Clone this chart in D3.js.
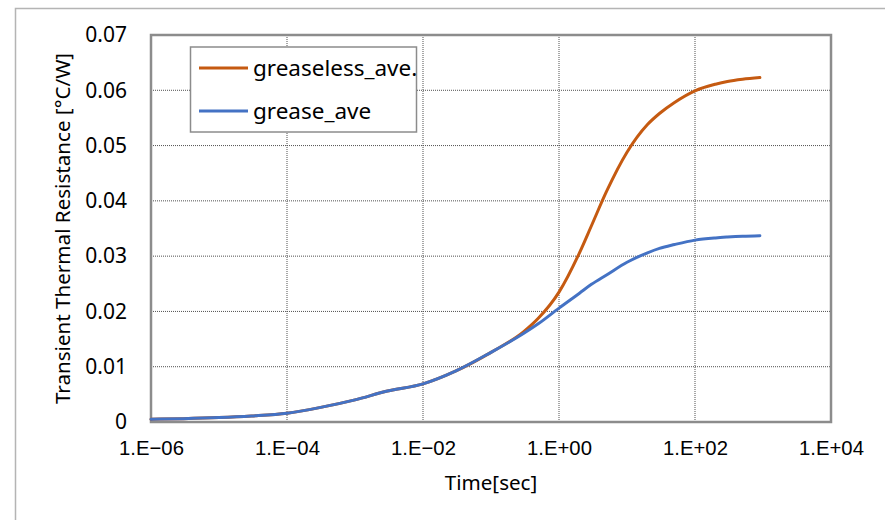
<!DOCTYPE html>
<html>
<head>
<meta charset="utf-8">
<script src="https://cdn.jsdelivr.net/npm/d3@7"></script>
<style>
  body { margin: 0; background: #fff; }
  .grid line { stroke: #505050; stroke-width: 1; stroke-dasharray: 1,1; }
  .axis path, .axis line { display: none; }
  .ylab text { font-family: "Noto Sans", sans-serif; font-size: 21px; fill: #000; }
  .xlab text { font-family: "Liberation Sans", Arial, sans-serif; font-size: 20.3px; fill: #000; }
  .title { font-family: "Noto Sans", sans-serif; font-size: 20.6px; fill: #000; }
  .legend text { font-family: "Noto Sans", sans-serif; font-size: 22.5px; fill: #000; }
</style>
</head>
<body>
<svg id="chart" width="885" height="520"></svg>
<script>
// time in seconds and transient thermal resistance (C/W)
var time       = [1e-6, 3e-6, 1e-5, 3e-5, 1e-4, 3e-4, 1e-3, 3e-3, 1e-2, 3e-2, 1e-1, 3e-1, 0.5, 1, 2, 3, 5, 10, 20, 30, 50, 100, 200, 300, 500, 900];
var greaseless = [0.0005, 0.0006, 0.0008, 0.0011, 0.0016, 0.0026, 0.0040, 0.0056, 0.0069, 0.0092, 0.0126, 0.0163, 0.0188, 0.0235, 0.0306, 0.0355, 0.0417, 0.0488, 0.0538, 0.0558, 0.0578, 0.0599, 0.0611, 0.0616, 0.0620, 0.0623];
var grease     = [0.0005, 0.0006, 0.0008, 0.0011, 0.0016, 0.0026, 0.0040, 0.0056, 0.0069, 0.0092, 0.0126, 0.0160, 0.0178, 0.0206, 0.0233, 0.0249, 0.0266, 0.0289, 0.0306, 0.0314, 0.0321, 0.0329, 0.0333, 0.03345, 0.0336, 0.0337];

var seriesNames  = ["greaseless_ave.", "grease_ave"];
var seriesColors = ["#C55A11", "#4472C4"];

var xTicks      = [1e-6, 1e-4, 1e-2, 1e0, 1e2, 1e4];
var xTickLabels = ["1.E\u221206", "1.E\u221204", "1.E\u221202", "1.E+00", "1.E+02", "1.E+04"];
var yTicks      = [0, 0.01, 0.02, 0.03, 0.04, 0.05, 0.06, 0.07];
var yTickLabels = ["0", "0.01", "0.02", "0.03", "0.04", "0.05", "0.06", "0.07"];

var margin = {top: 35, right: 54, bottom: 98, left: 151},
    width = 885 - margin.left - margin.right,
    height = 520 - margin.top - margin.bottom;

var svg = d3.select("#chart");

// outer chart frame (runs off the right and bottom edges)
svg.append("rect")
  .attr("x", 15.5).attr("y", 8.5)
  .attr("width", 900).attr("height", 600)
  .attr("fill", "none")
  .attr("stroke", "#b4b4b4")
  .attr("stroke-width", 1.5);

var g = svg.append("g")
  .attr("transform", "translate(" + margin.left + "," + margin.top + ")");

var xscale = d3.scaleLog().domain([1e-6, 1e4]).range([0, width]);
var yscale = d3.scaleLinear().domain([0, 0.07]).range([height, 0]);

// gridlines
g.append("g").attr("class", "grid")
  .selectAll("line").data(xTicks).enter().append("line")
  .attr("x1", function(d) { return xscale(d); })
  .attr("x2", function(d) { return xscale(d); })
  .attr("y1", 0).attr("y2", height);

g.append("g").attr("class", "grid")
  .selectAll("line").data(yTicks).enter().append("line")
  .attr("y1", function(d) { return yscale(d); })
  .attr("y2", function(d) { return yscale(d); })
  .attr("x1", 0).attr("x2", width);

// axes (labels only)
var xaxis = d3.axisBottom(xscale)
  .tickValues(xTicks)
  .tickSize(0)
  .tickPadding(19)
  .tickFormat(function(d, i) { return xTickLabels[i]; });

var yaxis = d3.axisLeft(yscale)
  .tickValues(yTicks)
  .tickSize(0)
  .tickPadding(24)
  .tickFormat(function(d, i) { return yTickLabels[i]; });

g.append("g")
  .attr("class", "axis xlab")
  .attr("transform", "translate(0," + height + ")")
  .call(xaxis);

g.append("g")
  .attr("class", "axis ylab")
  .call(yaxis);

// plot area border
g.append("rect")
  .attr("width", width).attr("height", height)
  .attr("fill", "none")
  .attr("stroke", "#8c8c8c")
  .attr("stroke-width", 2.5);

// lines
var rows = time.map(function(t, i) { return {t: t, v: [greaseless[i], grease[i]]}; });

[0, 1].forEach(function(k) {
  var line = d3.line()
    .x(function(d) { return xscale(d.t); })
    .y(function(d) { return yscale(d.v[k]); })
    .curve(d3.curveMonotoneX);
  g.append("path")
    .datum(rows)
    .attr("fill", "none")
    .attr("stroke", seriesColors[k])
    .attr("stroke-width", 3)
    .attr("stroke-linecap", "round")
    .attr("d", line);
});

// axis titles
svg.append("text")
  .attr("class", "title")
  .attr("x", margin.left + width / 2)
  .attr("y", 490)
  .attr("text-anchor", "middle")
  .text("Time[sec]");

svg.append("text")
  .attr("class", "title")
  .attr("transform", "translate(70," + (margin.top + height / 2) + ") rotate(-90)")
  .attr("text-anchor", "middle")
  .text("Transient Thermal Resistance [\u00B0C/W]");

// legend
var legend = svg.append("g").attr("class", "legend");
legend.append("rect")
  .attr("x", 190.5).attr("y", 47)
  .attr("width", 226).attr("height", 85)
  .attr("fill", "#fff")
  .attr("stroke", "#8c8c8c")
  .attr("stroke-width", 1.5);

var item = legend.selectAll(".item")
  .data(seriesNames)
  .enter().append("g")
  .attr("class", "item")
  .attr("transform", function(d, i) { return "translate(199," + (68 + i * 43) + ")"; });

item.append("line")
  .attr("x1", 0).attr("x2", 49)
  .attr("stroke", function(d, i) { return seriesColors[i]; })
  .attr("stroke-width", 3);

item.append("text")
  .attr("x", 54)
  .attr("dy", "0.35em")
  .text(function(d) { return d; });
</script>
</body>
</html>
